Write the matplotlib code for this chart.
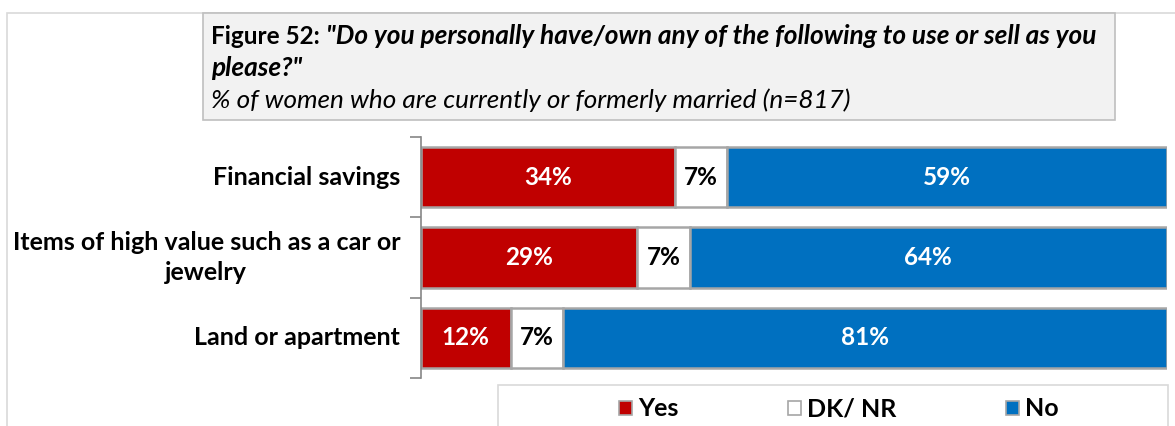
import matplotlib.pyplot as plt
from matplotlib.patches import Rectangle, Patch

categories = ["Financial savings", "Items of high value such as a car or\njewelry", "Land or apartment"]
yes = [34, 29, 12]
dk = [7, 7, 7]
no = [59, 64, 81]
series_names = ["Yes", "DK/ NR", "No"]
colors = ["#c00000", "#ffffff", "#0070c0"]

plt.rcParams['font.family'] = ['Lato', 'DejaVu Sans']

W, H = 1175, 426
fig = plt.figure(figsize=(W / 100, H / 100), dpi=100)

def fx(px):
    return px / W

def fy(py):
    return 1 - py / H

# outer border
fig.patches.append(Rectangle((fx(7), fy(440)), fx(1180) - fx(7), fy(13) - fy(440),
                             transform=fig.transFigure, fill=False, edgecolor="#d9d9d9", lw=1.2))
# title box
fig.patches.append(Rectangle((fx(203), fy(120)), fx(1115) - fx(203), fy(13) - fy(120),
                             transform=fig.transFigure, facecolor="#f2f2f2", edgecolor="#bfbfbf", lw=1.2))
t1 = fig.text(fx(211), fy(36), "Figure 52: ", fontsize=17.5, fontweight="bold", va="center", ha="left")
renderer = fig.canvas.get_renderer()
bb = t1.get_window_extent(renderer=renderer)
x_after = bb.x1 / W
fig.text(x_after, fy(36), "\"Do you personally have/own any of the following to use or sell as you",
         fontsize=18.9, fontweight="bold", style="italic", va="center", ha="left")
fig.text(fx(211), fy(68), "please?\"", fontsize=18.9, fontweight="bold", style="italic", va="center", ha="left")
fig.text(fx(211), fy(100), "% of women who are currently or formerly married (n=817)", fontsize=18.8,
         style="italic", va="center", ha="left")

ax = fig.add_axes([fx(421), fy(378), fx(1167) - fx(421), fy(137) - fy(378)])
ypos = list(range(len(categories)))
left = [0] * len(categories)
for vals, name, col in zip([yes, dk, no], series_names, colors):
    bars = ax.barh(ypos, vals, left=left, height=0.75, color=col, edgecolor="#a6a6a6", lw=1.8, label=name)
    for b, v, l in zip(bars, vals, left):
        tc = "black" if col == "#ffffff" else "white"
        ax.text(l + v / 2, b.get_y() + b.get_height() / 2, f"{v}%", ha="center", va="center",
                color=tc, fontsize=17.5, fontweight="bold")
    left = [a + b for a, b in zip(left, vals)]

ax.set_xlim(0, 100)
ax.set_ylim(2.5, -0.5)
ax.set_yticks([-0.5, 0.5, 1.5, 2.5])
ax.set_yticklabels([])
ax.set_yticks(ypos, minor=True)
ax.set_yticklabels(categories, minor=True, fontsize=18, fontweight="bold", ha="right", va="center",
                   multialignment="center", linespacing=1.35)
ax.tick_params(axis="y", which="minor", length=0, pad=15)
ax.tick_params(axis="y", which="major", length=8, color="#868686", width=1.2)
ax.set_xticks([])
for s in ["top", "right", "bottom"]:
    ax.spines[s].set_visible(False)
ax.spines["left"].set_color("#868686")
ax.spines["left"].set_linewidth(1.2)

# legend box
fig.patches.append(Rectangle((fx(498), fy(440)), fx(1168) - fx(498), fy(385) - fy(440),
                             transform=fig.transFigure, fill=False, edgecolor="#d9d9d9", lw=1.2))
handles = [Patch(facecolor=c, edgecolor="#a6a6a6", lw=1.2) for c in colors]
leg = fig.legend(handles, series_names, loc="center", bbox_to_anchor=(fx(839), fy(409)), ncol=3,
                 frameon=False, handlelength=0.5, handleheight=0.5, handletextpad=0.25,
                 columnspacing=4.4, prop={"weight": "bold", "size": 18})

fig.savefig("out.png", dpi=100)
